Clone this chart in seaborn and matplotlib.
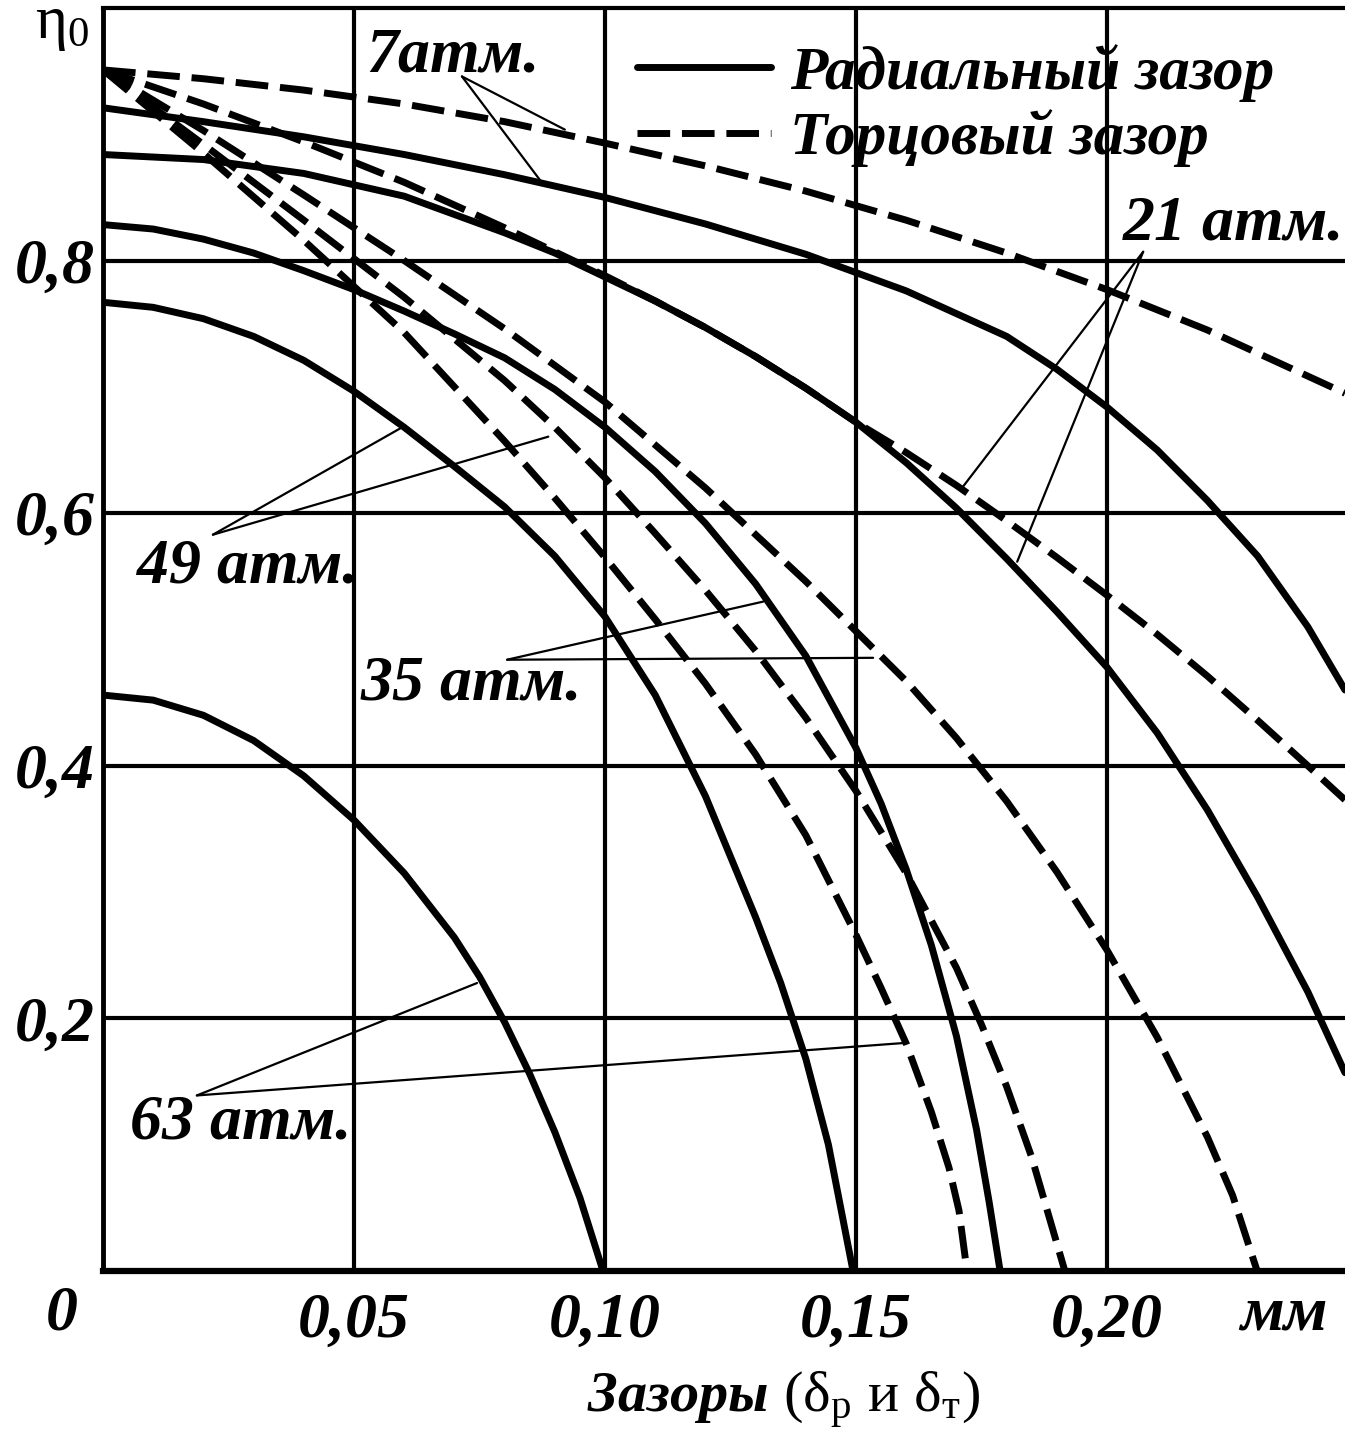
# -*- coding: utf-8 -*-
# КПД η0 в зависимости от зазоров (радиальный / торцовый)
import numpy as np
import pandas as pd
import seaborn as sns
import matplotlib.pyplot as plt
from matplotlib.lines import Line2D

sns.set_style("white")
plt.rcParams['font.family'] = ['Liberation Serif', 'DejaVu Serif']
plt.rcParams['text.color'] = 'black'
plt.rcParams['xtick.color'] = 'black'
plt.rcParams['ytick.color'] = 'black'
plt.rcParams['mathtext.fontset'] = 'custom'
plt.rcParams['mathtext.rm'] = 'Liberation Serif'
plt.rcParams['mathtext.it'] = 'Liberation Serif:style=italic:weight=bold'
plt.rcParams['mathtext.bf'] = 'Liberation Serif:weight=bold'

# ===================== данные =====================
# радиальный зазор - сплошные линии
RAD_7_X = [0, 0.02, 0.04, 0.06, 0.08, 0.10, 0.12, 0.14, 0.16, 0.18, 0.19, 0.20, 0.21, 0.22, 0.23, 0.24, 0.2474]
RAD_7_Y = [0.921, 0.910, 0.898, 0.884, 0.868, 0.850, 0.829, 0.805, 0.776, 0.740, 0.714, 0.684, 0.650, 0.610, 0.566, 0.510, 0.460]

RAD_21_X = [0, 0.02, 0.04, 0.06, 0.08, 0.09, 0.10, 0.11, 0.12, 0.13, 0.14, 0.15, 0.16, 0.17, 0.18, 0.19,
            0.20, 0.21, 0.22, 0.23, 0.24, 0.2474]
RAD_21_Y = [0.884, 0.880, 0.869, 0.851, 0.822, 0.806, 0.787, 0.768, 0.747, 0.724, 0.699, 0.672, 0.640, 0.604,
            0.564, 0.522, 0.478, 0.426, 0.365, 0.296, 0.221, 0.157]

RAD_35_X = [0, 0.01, 0.02, 0.03, 0.04, 0.05, 0.06, 0.07, 0.08, 0.09, 0.10, 0.11, 0.12, 0.13, 0.14, 0.15,
            0.155, 0.16, 0.165, 0.17, 0.174, 0.1765, 0.1787]
RAD_35_Y = [0.8285, 0.825, 0.817, 0.806, 0.792, 0.777, 0.760, 0.742, 0.723, 0.698, 0.668, 0.633, 0.592, 0.544,
            0.487, 0.414, 0.370, 0.318, 0.258, 0.186, 0.112, 0.055, 0.0]

RAD_49_X = [0, 0.01, 0.02, 0.03, 0.04, 0.05, 0.06, 0.07, 0.08, 0.09, 0.10, 0.11, 0.12, 0.13, 0.135, 0.14,
            0.1445, 0.1494]
RAD_49_Y = [0.767, 0.763, 0.754, 0.740, 0.721, 0.6965, 0.668, 0.637, 0.605, 0.566, 0.518, 0.456, 0.376, 0.280,
            0.228, 0.168, 0.100, 0.0]

RAD_63_X = [0, 0.01, 0.02, 0.03, 0.04, 0.05, 0.06, 0.07, 0.075, 0.08, 0.085, 0.09, 0.095, 0.0996]
RAD_63_Y = [0.456, 0.452, 0.440, 0.420, 0.392, 0.357, 0.315, 0.264, 0.233, 0.197, 0.156, 0.110, 0.058, 0.0]

# торцовый зазор - пунктир
TOR_7_X = [0, 0.02, 0.04, 0.06, 0.08, 0.10, 0.12, 0.14, 0.16, 0.18, 0.20, 0.22, 0.2474]
TOR_7_Y = [0.951, 0.944, 0.935, 0.924, 0.910, 0.893, 0.875, 0.855, 0.832, 0.806, 0.777, 0.745, 0.695]

TOR_21_X = [0, 0.02, 0.04, 0.06, 0.08, 0.09, 0.10, 0.11, 0.12, 0.13, 0.14, 0.15, 0.16, 0.17, 0.18, 0.19,
            0.20, 0.21, 0.22, 0.23, 0.24, 0.2474]
TOR_21_Y = [0.951, 0.924, 0.894, 0.862, 0.826, 0.807, 0.788, 0.768, 0.747, 0.724, 0.699, 0.672, 0.648, 0.622,
            0.594, 0.565, 0.535, 0.504, 0.471, 0.436, 0.400, 0.373]

TOR_35_X = [0, 0.02, 0.04, 0.06, 0.08, 0.10, 0.12, 0.14, 0.16, 0.17, 0.18, 0.19, 0.20, 0.21, 0.22, 0.225, 0.2299]
TOR_35_Y = [0.951, 0.903, 0.852, 0.800, 0.746, 0.688, 0.620, 0.546, 0.467, 0.422, 0.372, 0.316, 0.254, 0.185,
            0.106, 0.060, 0.0]

TOR_49_X = [0, 0.02, 0.04, 0.06, 0.08, 0.09, 0.10, 0.11, 0.12, 0.13, 0.14, 0.15, 0.16, 0.17, 0.175, 0.18,
            0.185, 0.1916]
TOR_49_Y = [0.951, 0.892, 0.832, 0.771, 0.705, 0.668, 0.628, 0.584, 0.539, 0.491, 0.438, 0.380, 0.315, 0.240,
            0.195, 0.146, 0.090, 0.0]

TOR_63_X = [0, 0.02, 0.04, 0.06, 0.08, 0.09, 0.10, 0.11, 0.12, 0.13, 0.14, 0.15, 0.155, 0.16, 0.165, 0.1685,
            0.1705, 0.1721]
TOR_63_Y = [0.951, 0.885, 0.816, 0.743, 0.657, 0.612, 0.565, 0.516, 0.465, 0.409, 0.345, 0.266, 0.224, 0.180,
            0.126, 0.082, 0.048, 0.0]

PRESSURES = [7, 21, 35, 49, 63]
KIND_RAD = 'Радиальный зазор'
KIND_TOR = 'Торцовый зазор'

X_TICKS = [0.05, 0.10, 0.15, 0.20]
X_TICK_LABELS = ['0,05', '0,10', '0,15', '0,20']
Y_TICKS = [0.2, 0.4, 0.6, 0.8]
Y_TICK_LABELS = ['0,2', '0,4', '0,6', '0,8']

# подписи давлений: текст, позиция (левый край, базовая линия), концы выносок
LABELS = ['7атм.', '21 атм.', '49 атм.', '35 атм.', '63 атм.']
LABEL_POS = [(0.0524, 0.950), (0.2032, 0.8166), (0.0068, 0.545), (0.0512, 0.4523), (0.0054, 0.1053)]
LEADER_FROM = [(0.0715, 0.9458), (0.2072, 0.807), (0.0219, 0.583), (0.0805, 0.484), (0.0187, 0.139)]
LEADER_TO = [[(0.092, 0.9037), (0.087, 0.864)],
             [(0.1713, 0.621), (0.1821, 0.5616)],
             [(0.0598, 0.6685), (0.0887, 0.6606)],
             [(0.1315, 0.530), (0.1534, 0.4855)],
             [(0.0745, 0.228), (0.1598, 0.1806)]]

# ===================== таблица для seaborn =====================
rad = [(RAD_7_X, RAD_7_Y), (RAD_21_X, RAD_21_Y), (RAD_35_X, RAD_35_Y), (RAD_49_X, RAD_49_Y), (RAD_63_X, RAD_63_Y)]
tor = [(TOR_7_X, TOR_7_Y), (TOR_21_X, TOR_21_Y), (TOR_35_X, TOR_35_Y), (TOR_49_X, TOR_49_Y), (TOR_63_X, TOR_63_Y)]
frames = []
for p, (xs, ys) in zip(PRESSURES, rad):
    frames.append(pd.DataFrame({'x': xs, 'eta': ys, 'p': p, 'kind': KIND_RAD}))
for p, (xs, ys) in zip(PRESSURES, tor):
    frames.append(pd.DataFrame({'x': xs, 'eta': ys, 'p': p, 'kind': KIND_TOR}))
df = pd.concat(frames, ignore_index=True)

# ===================== рисунок =====================
W, H = 1345, 1440
fig = plt.figure(figsize=(W / 100, H / 100), dpi=100)
ax = fig.add_axes([103 / W, (H - 1271) / H, (W - 103) / W, 1263 / H])

LW = 5
DASH = (4.7, 1.7)
sns.lineplot(data=df, x='x', y='eta', units='p', estimator=None, sort=False,
             style='kind', style_order=[KIND_RAD, KIND_TOR],
             dashes={KIND_RAD: '', KIND_TOR: DASH},
             color='black', linewidth=LW, legend=False, ax=ax,
             solid_joinstyle='round')

ax.set_xlim(0, 0.2474)
ax.set_ylim(0, 1.0)
ax.set_xlabel('')
ax.set_ylabel('')

tick_font = dict(fontsize=46, fontweight='bold', fontstyle='italic')
ax.set_xticks(X_TICKS, X_TICK_LABELS, **tick_font)
ax.set_yticks(Y_TICKS, Y_TICK_LABELS, **tick_font)
ax.tick_params(axis='x', length=0, pad=16)
ax.tick_params(axis='y', length=0, pad=6)
ax.grid(True, color='black', linewidth=3)

ax.spines['right'].set_visible(False)
ax.spines['top'].set_linewidth(3)
ax.spines['left'].set_linewidth(3.5)
ax.spines['bottom'].set_linewidth(4.5)
for s in ['top', 'left', 'bottom']:
    ax.spines[s].set_color('black')

# подписи давлений с выносками
for txt, (tx, ty), src, ends in zip(LABELS, LABEL_POS, LEADER_FROM, LEADER_TO):
    ax.text(tx, ty, txt, fontsize=46, fontweight='bold', fontstyle='italic',
            ha='left', va='baseline')
    for e in ends:
        ax.annotate('', xy=e, xytext=src,
                    arrowprops=dict(arrowstyle='-', lw=1.6, color='black',
                                    shrinkA=0, shrinkB=0))

# легенда
handles = [Line2D([], [], color='black', lw=LW),
           Line2D([], [], color='black', lw=LW, dashes=DASH)]
ax.legend(handles, [KIND_RAD, KIND_TOR], loc='upper left',
          bbox_to_anchor=(637 / W, 1 - 44 / H), bbox_transform=fig.transFigure,
          frameon=False, borderpad=0, borderaxespad=0, handlelength=2.2,
          handletextpad=0.3, labelspacing=0.12,
          prop=dict(family='Liberation Serif', size=44, weight='bold', style='italic'))

# подписи осей
fig.text(62 / W, 1 - 1315 / H, '0', fontsize=46, fontweight='bold', fontstyle='italic',
         ha='center', va='center')
fig.text(1284 / W, 1 - 1315 / H, 'мм', fontsize=46, fontweight='bold', fontstyle='italic',
         ha='center', va='center')
fig.text(783 / W, 1 - 1400 / H, r'$\mathit{Зазоры\ (}\mathrm{\delta_{р}\ и\ \delta_{т}}\mathit{)}$',
         fontsize=42, ha='center', va='center')
fig.text(62 / W, 1 - 25 / H, r'$\mathrm{\eta}_{\mathit{0}}$', fontsize=44, ha='center', va='center')

fig.savefig('out.png', dpi=100)
